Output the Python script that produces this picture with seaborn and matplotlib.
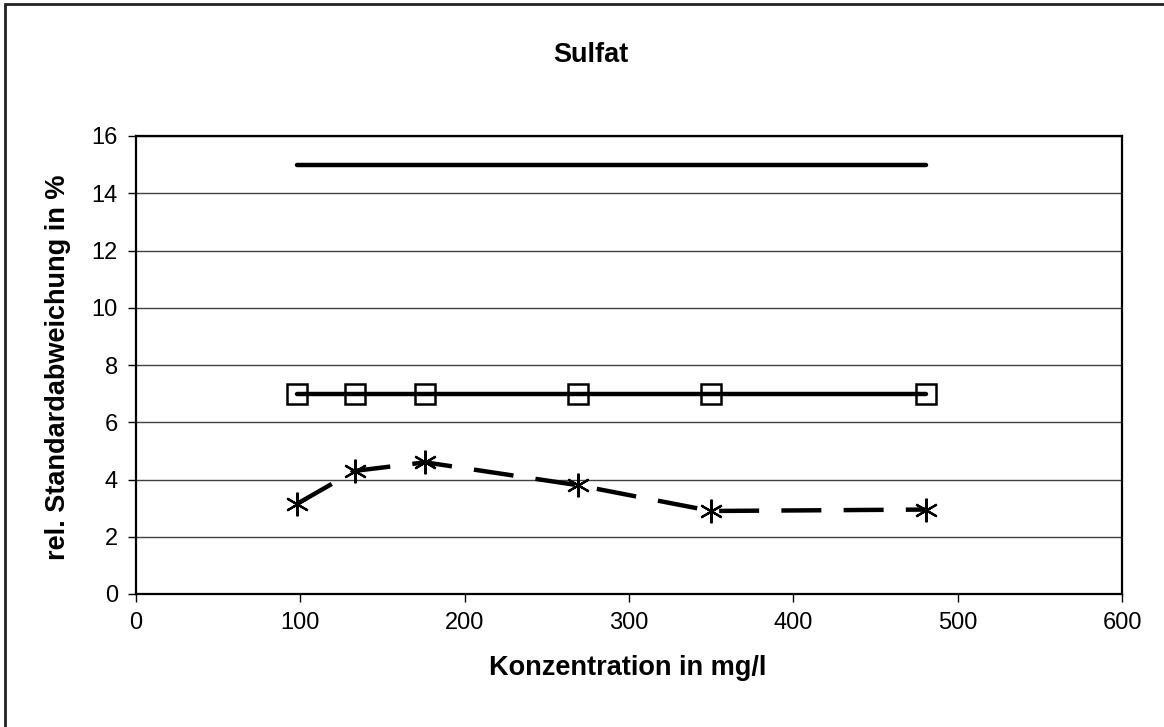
import matplotlib
matplotlib.use("Agg")
import matplotlib.pyplot as plt
import seaborn as sns
import pandas as pd
from matplotlib.patches import Rectangle

# Data
conc = [98, 133, 176, 269, 350, 481]
target = [7, 7, 7, 7, 7, 7]
measured = [3.15, 4.3, 4.6, 3.8, 2.9, 2.95]
limit_x = [98, 481]
limit_y = [15, 15]

x_ticks = [0, 100, 200, 300, 400, 500, 600]
y_ticks = [0, 2, 4, 6, 8, 10, 12, 14, 16]

sns.set_style("white")
plt.rcParams['font.family'] = ['Liberation Sans', 'DejaVu Sans']
plt.rcParams['text.color'] = 'black'
plt.rcParams['xtick.color'] = 'black'
plt.rcParams['ytick.color'] = 'black'
plt.rcParams['xtick.labelcolor'] = 'black'
plt.rcParams['ytick.labelcolor'] = 'black'

fig = plt.figure(figsize=(11.64, 7.27), dpi=100)
ax = fig.add_axes([136/1164, 1 - 594/727, (1122-136)/1164, (594-136)/727])

df_lim = pd.DataFrame({"x": limit_x, "y": limit_y})
df_t = pd.DataFrame({"x": conc, "y": target})
df_m = pd.DataFrame({"x": conc, "y": measured})

sns.lineplot(data=df_lim, x="x", y="y", ax=ax, color="black", linewidth=3.2,
             solid_capstyle="round", zorder=3)
sns.lineplot(data=df_t, x="x", y="y", ax=ax, color="black", linewidth=3.2,
             marker="s", markersize=14, markerfacecolor="none",
             markeredgecolor="black", markeredgewidth=1.8,
             solid_capstyle="round", zorder=3)
sns.lineplot(data=df_m, x="x", y="y", ax=ax, color="black", linewidth=3.2,
             marker=(6, 2, 0), markersize=17, markeredgecolor="black",
             markeredgewidth=1.6, zorder=3)
ax.lines[-1].set_dashes([9, 5])

ax.set_xlim(0, 600)
ax.set_ylim(0, 16)
ax.set_xticks(x_ticks)
ax.set_yticks(y_ticks)
ax.tick_params(axis="both", labelsize=17, direction="out", length=6,
               width=1, color="black", labelcolor="black", pad=7,
               bottom=True, left=True)
ax.yaxis.grid(True, color="#404040", linewidth=1)
ax.xaxis.grid(False)
ax.set_axisbelow(True)
for s in ax.spines.values():
    s.set_visible(True)
    s.set_color("black")
    s.set_linewidth(1.6)
ax.set_xlabel("")
ax.set_ylabel("")

fig.text(591/1164, 1 - 55/727, "Sulfat", ha="center", va="center",
         fontsize=19.5, fontweight="bold", color="black")
fig.text(628/1164, 1 - 668/727, "Konzentration in mg/l", ha="center",
         va="center", fontsize=19.5, fontweight="bold", color="black")
fig.text(58/1164, 1 - 367/727, "rel. Standardabweichung in %", ha="center",
         va="center", rotation=90, fontsize=19.5, fontweight="bold",
         color="black")

fig.patches.append(Rectangle((5/1164, -0.1), 1.2, 1 - 4/727 + 0.1,
                             transform=fig.transFigure, fill=False,
                             edgecolor="#222222", linewidth=2))

fig.savefig("out.png", dpi=100)
